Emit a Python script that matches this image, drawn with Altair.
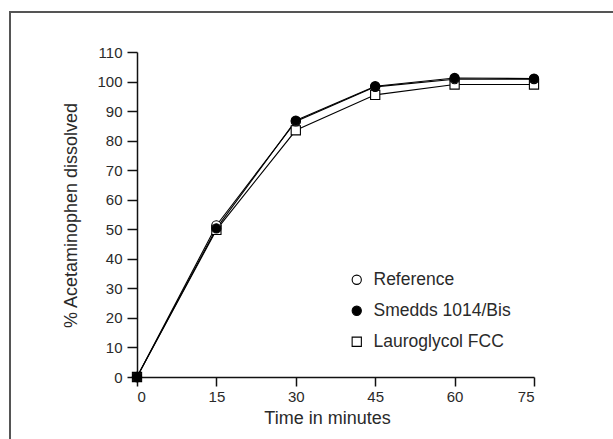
import altair as alt
import pandas as pd

time_min = [0, 15, 30, 45, 60, 75]
reference = [0, 51.3, 86.5, 98.2, 100.8, 100.8]
smedds = [0, 50.3, 86.8, 98.4, 101.2, 101.0]
lauroglycol = [0, 49.8, 83.5, 95.5, 99.0, 99.0]

series_names = ["Reference", "Smedds 1014/Bis", "Lauroglycol FCC"]
series_vals = [reference, smedds, lauroglycol]
draw_order = {"Lauroglycol FCC": 0, "Reference": 1, "Smedds 1014/Bis": 2}

rows = []
for name, vals in zip(series_names, series_vals):
    for t, v in zip(time_min, vals):
        rows.append({"t": t, "v": v, "series": name, "ord": draw_order[name]})
df = pd.DataFrame(rows)

FONT = "Liberation Sans"
TXT = "#2a2a2a"

x_enc = alt.X("t:Q", scale=alt.Scale(domain=[0, 75], nice=False, zero=False),
              axis=alt.Axis(values=time_min, title="Time in minutes", tickSize=9,
                            labelPadding=3, titleX=190, titleY=32,
                            titleBaseline="top", labelFontSize=15, titleFontSize=18))
y_enc = alt.Y("v:Q", scale=alt.Scale(domain=[0, 110], nice=False),
              axis=alt.Axis(values=list(range(0, 111, 10)),
                            title="% Acetaminophen dissolved", tickSize=10,
                            labelPadding=5, titleX=-57, titleY=163,
                            titleAngle=-90, titleBaseline="bottom", titleAlign="center",
                            labelFontSize=15, titleFontSize=18))

legend = alt.Legend(title=None, orient="none", legendX=211, legendY=219,
                    labelFontSize=17.5, labelFont=FONT, labelColor=TXT,
                    symbolSize=85, symbolStrokeWidth=1.1,
                    rowPadding=12, labelOffset=8)

lines = alt.Chart(df).mark_line(color="black", strokeWidth=1.1).encode(
    x=x_enc, y=y_enc, detail="series:N", order="t:Q"
)

points = alt.Chart(df).mark_point(filled=True, size=85,
                                  strokeWidth=1.1, opacity=1).encode(
    x=x_enc, y=y_enc,
    shape=alt.Shape("series:N", scale=alt.Scale(domain=series_names,
                                                 range=["circle", "circle", "square"]),
                    legend=legend),
    fill=alt.Fill("series:N", scale=alt.Scale(domain=series_names,
                                               range=["white", "black", "white"]),
                  legend=legend),
    stroke=alt.Stroke("series:N", scale=alt.Scale(domain=series_names,
                                                   range=["black", "black", "black"]),
                      legend=legend),
    order="ord:Q",
)

frame = alt.Chart(alt.Data(values=[{}])).mark_rect(
    filled=False, stroke="#555555", strokeWidth=2
).encode(x=alt.value(-127), x2=alt.value(700), y=alt.value(-40), y2=alt.value(600))

chart = alt.layer(frame, lines, points).properties(
    width=397, height=325,
    autosize=alt.AutoSizeParams(type="none"),
    padding={"left": 137, "top": 52, "right": 79, "bottom": 62},
    background="white",
).configure_view(stroke=None).configure_axis(
    labelFont=FONT, titleFont=FONT,
    labelColor=TXT, titleColor=TXT, titleFontWeight="normal",
    domainColor="#111111", tickColor="#111111", domainWidth=1.5, tickWidth=1.5,
    grid=False, labelOverlap=False,
)

chart.save("out.html", embed_options={"renderer": "svg", "actions": False})
